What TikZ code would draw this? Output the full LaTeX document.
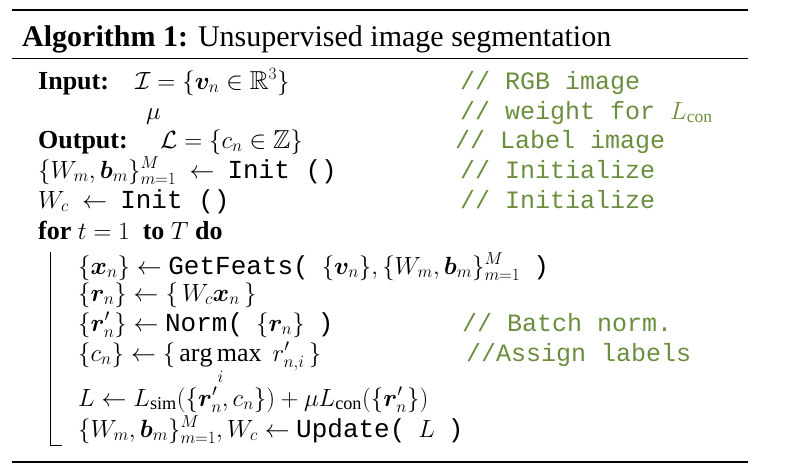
\documentclass[tikz,border=0pt]{standalone}
\usepackage{amsmath,amssymb,bm}
\usepackage{fontspec}
\setmainfont{Liberation Serif}
\setmonofont{Liberation Mono}
\definecolor{cm}{HTML}{6B8E3E}
\begin{document}
\begin{tikzpicture}[x=1pt,y=-1pt,
  t/.style={anchor=base west,inner sep=0pt,font=\fontsize{26}{30}\selectfont},
  c/.style={t,text=cm,font=\fontsize{25}{30}\ttfamily}]
\useasboundingbox (0,0) rectangle (785,474);
\draw[line width=1.6pt] (12,10) -- (748,10);
\draw[line width=0.8pt] (12,58) -- (748,58);
\draw[line width=1.6pt] (12,462) -- (748,462);
\node[t,font=\fontsize{30}{32}\selectfont] (title) at (22,46) {\textbf{Algorithm 1:} Unsupervised image segmentation};
\node[t] (in) at (38,89) {\textbf{Input:}};
\node[t] (in2) at (135,89) {$\mathcal{I}=\{\bm{v}_n\in\mathbb{R}^3\}$};
\node[c] (c1) at (460,89) {// RGB image};
\node[t] (mu) at (146,119) {$\mu$};
\node[c] (c2) at (460,119) {// weight for \textcolor{cm}{$L_{\mathrm{con}}$}};
\node[t] (out) at (38,148) {\textbf{Output:}};
\node[t] (out2) at (160,148) {$\mathcal{L}=\{c_n\in\mathbb{Z}\}$};
\node[c] (c3) at (455,148) {// Label image};
\node[t] (w) at (38,178) {$\{W_m,\bm{b}_m\}_{m=1}^M\ \leftarrow$\ \ \texttt{Init ()}};
\node[c] (c4) at (460,178) {// Initialize};
\node[t] (wc) at (38,208) {$W_c\ \leftarrow$\ \ \texttt{Init ()}};
\node[c] (c5) at (460,208) {// Initialize};
\node[t] (for) at (38,239) {\textbf{for} $t=1$\ \ \textbf{to} $T$ \textbf{do}};
\node[t] (l1) at (78,274) {$\{\bm{x}_n\}\leftarrow$ \texttt{GetFeats(}\ \ $\{\bm{v}_n\},\{W_m,\bm{b}_m\}_{m=1}^M$\ \ \texttt{)}};
\node[t] (l2) at (78,301) {$\{\bm{r}_n\}\leftarrow\{\,W_c\bm{x}_n\,\}$};
\node[t] (l3) at (78,331) {$\{\bm{r}'_n\}\leftarrow$ \texttt{Norm(}\ \ $\{\bm{r}_n\}$\ \ \texttt{)}};
\node[c] (c6) at (462,331) {// Batch norm.};
\node[t] (l4) at (78,361) {$\{c_n\}\leftarrow\{\,\mathop{\arg\max}\limits_i\; r'_{n,i}\,\}$};
\node[c] (c7) at (466,361) {//Assign labels};
\node[t] (l5) at (78,406) {$L\leftarrow L_{\mathrm{sim}}(\{\bm{r}'_n,c_n\})+\mu L_{\mathrm{con}}(\{\bm{r}'_n\})$};
\node[t] (l6) at (78,437) {$\{W_m,\bm{b}_m\}_{m=1}^M,W_c\leftarrow$ \texttt{Update(}\ \ $L$\ \ \texttt{)}};
\draw[line width=0.6pt] (50,252) -- (50,445) -- (62,445);
\end{tikzpicture}
\end{document}
